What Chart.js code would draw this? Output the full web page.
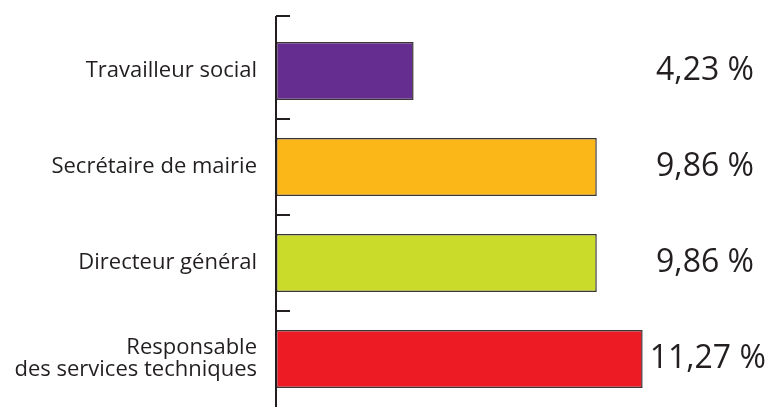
<!DOCTYPE html>
<html>
<head>
<meta charset="utf-8">
<script src="https://cdn.jsdelivr.net/npm/chart.js@4/dist/chart.umd.min.js"></script>
<style>
  html, body { margin: 0; padding: 0; background: #ffffff; }
  #wrap { width: 771px; height: 407px; }
</style>
</head>
<body>
<div id="wrap"><canvas id="chart" width="771" height="407"></canvas></div>
<script>
// Postes occupés (part des répondants, en %)
const categories = [
  'Travailleur social',
  'Secrétaire de mairie',
  'Directeur général',
  ['Responsable', 'des services techniques']
];
const values = [4.23, 9.86, 9.86, 11.27];
const valueLabels = ['4,23 %', '9,86 %', '9,86 %', '11,27 %'];
const barColors = ['#662d91', '#fbb617', '#cbdb2a', '#ed1c24'];

const INK = '#231f20';
const FONT = '"Open Sans", "Noto Sans", sans-serif';

// Short tick marks pointing into the plot, plus the vertical axis line
const axisTicks = {
  id: 'axisTicks',
  afterDatasetsDraw(chart) {
    const { ctx, chartArea, scales } = chart;
    const y = scales.y;
    const x0 = chartArea.left;
    const topY = chartArea.top - 7;
    ctx.save();
    ctx.strokeStyle = INK;
    ctx.lineWidth = 2;
    ctx.beginPath();
    ctx.moveTo(x0, topY);
    ctx.lineTo(x0, chartArea.bottom);
    const marks = [topY];
    for (let i = 1; i < categories.length; i++) marks.push(y.getPixelForValue(i - 0.5));
    marks.forEach(py => {
      ctx.moveTo(x0, py);
      ctx.lineTo(x0 + 14, py);
    });
    ctx.stroke();
    ctx.restore();
  }
};

// Value labels to the right of each bar
const valueText = {
  id: 'valueText',
  afterDatasetsDraw(chart) {
    const { ctx, chartArea } = chart;
    const meta = chart.getDatasetMeta(0);
    ctx.save();
    ctx.font = '32px ' + FONT;
    ctx.fillStyle = INK;
    ctx.textBaseline = 'middle';
    ctx.textAlign = 'left';
    const rightEdge = chartArea.right - 10;
    meta.data.forEach((bar, i) => {
      const txt = valueLabels[i];
      const w = ctx.measureText(txt).width;
      const x = Math.max(bar.x + 7, rightEdge - w);
      ctx.fillText(txt, x, bar.y);
    });
    ctx.restore();
  }
};

new Chart(document.getElementById('chart'), {
  type: 'bar',
  data: {
    labels: categories,
    datasets: [{
      data: values,
      backgroundColor: barColors,
      borderColor: '#3b3536',
      borderWidth: 1.5,
      borderSkipped: false,
      barPercentage: 0.604,
      categoryPercentage: 1
    }]
  },
  options: {
    indexAxis: 'y',
    responsive: false,
    animation: false,
    events: [],
    layout: { padding: { top: 23, right: 7, bottom: 0, left: 0 } },
    plugins: {
      legend: { display: false },
      tooltip: { enabled: false }
    },
    scales: {
      x: {
        display: false,
        min: 0,
        max: 15
      },
      y: {
        afterFit(scale) {
          scale.width = 276;
          scale.paddingTop = 0;
          scale.paddingBottom = 0;
        },
        grid: { display: false, drawTicks: false },
        border: { display: false },
        ticks: {
          color: INK,
          padding: 19,
          font: { family: FONT, size: 22, lineHeight: 1.0 }
        }
      }
    }
  },
  plugins: [axisTicks, valueText]
});
</script>
</body>
</html>
